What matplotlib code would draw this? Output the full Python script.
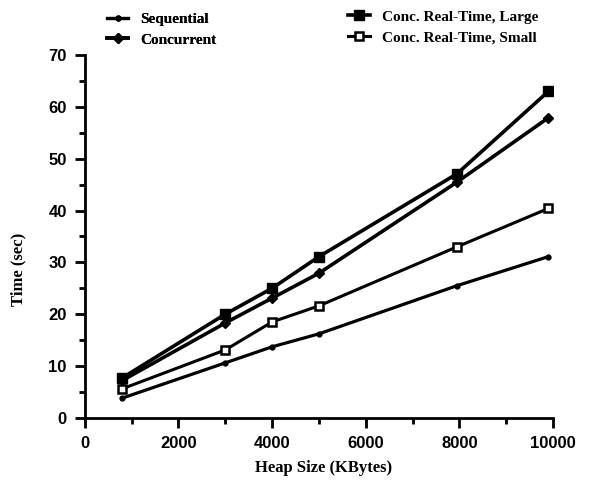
import matplotlib
matplotlib.use("Agg")
import matplotlib.pyplot as plt
from matplotlib.ticker import MultipleLocator

# heap size (KBytes)
heap = [800, 3000, 4000, 5000, 7950, 9900]

sequential = [3.8, 10.6, 13.7, 16.2, 25.5, 31.1]
concurrent = [7.2, 18.3, 23.1, 27.9, 45.5, 57.9]
rt_large = [7.7, 20.0, 25.0, 31.1, 47.1, 63.0]
rt_small = [5.6, 13.1, 18.5, 21.6, 33.0, 40.4]

labels = ["Sequential", "Concurrent", "Conc. Real-Time, Large", "Conc. Real-Time, Small"]

serif = "Liberation Serif"
sans = "Liberation Sans"

fig = plt.figure(figsize=(5.89, 4.83), dpi=100)
ax = fig.add_axes([0.144, 0.135, 0.795, 0.751])

lw = 2.6
h1, = ax.plot(heap, sequential, color="black", lw=lw - 0.3, marker="o", ms=3.5)
h2, = ax.plot(heap, concurrent, color="black", lw=lw, marker="D", ms=5)
h3, = ax.plot(heap, rt_large, color="black", lw=lw, marker="s", ms=7)
h4, = ax.plot(heap, rt_small, color="black", lw=lw - 0.4, marker="s", ms=6,
              mfc="white", mec="black", mew=1.8)

ax.set_xlim(0, 10000)
ax.set_ylim(0, 70)
ax.xaxis.set_major_locator(MultipleLocator(2000))
ax.xaxis.set_minor_locator(MultipleLocator(1000))
ax.yaxis.set_major_locator(MultipleLocator(10))
ax.yaxis.set_minor_locator(MultipleLocator(5))

for s in ["top", "right"]:
    ax.spines[s].set_visible(False)
for s in ["left", "bottom"]:
    ax.spines[s].set_linewidth(2)

ax.tick_params(which="major", direction="out", length=7, width=2, pad=6)
ax.tick_params(which="minor", direction="out", length=4, width=2)
for t in ax.get_xticklabels() + ax.get_yticklabels():
    t.set_fontfamily(sans)
    t.set_fontweight("bold")
    t.set_fontsize(12)

ax.set_xlabel("Heap Size (KBytes)", fontfamily=serif, fontweight="bold", fontsize=12)
ax.set_ylabel("Time (sec)", fontfamily=serif, fontweight="bold", fontsize=12)
ax.xaxis.set_label_coords(0.51, -0.115)
ax.yaxis.set_label_coords(-0.125, 0.41)

leg_font = {"family": serif, "weight": "bold", "size": 11}
leg1 = fig.legend([h1, h2], labels[:2], loc="upper left", bbox_to_anchor=(0.158, 1.003),
                  frameon=False, prop=leg_font,
                  handlelength=1.4, handletextpad=0.8, labelspacing=0.45)
fig.legend([h3, h4], labels[2:], loc="upper left", bbox_to_anchor=(0.568, 1.008),
           frameon=False, prop=leg_font,
           handlelength=1.4, handletextpad=0.8, labelspacing=0.45)
fig.add_artist(leg1)

fig.savefig("out.png", dpi=100)
